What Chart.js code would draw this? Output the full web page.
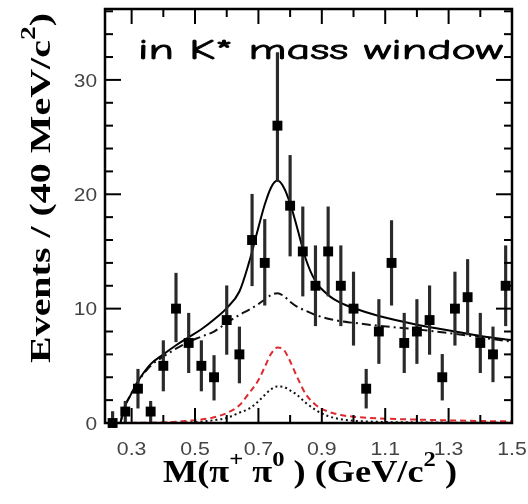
<!DOCTYPE html>
<html>
<head>
<meta charset="utf-8">
<script src="https://cdn.jsdelivr.net/npm/chart.js@4.4.0/dist/chart.umd.min.js"></script>
<style>
  html, body { margin: 0; padding: 0; background: #fff; }
</style>
</head>
<body>
<canvas id="myChart" width="528" height="504"></canvas>
<script>
// M(pi+ pi0) spectrum, 40 MeV bins
const massBins = [0.24, 0.28, 0.32, 0.36, 0.40, 0.44, 0.48, 0.52, 0.56, 0.60, 0.64, 0.68, 0.72, 0.76, 0.80, 0.84,
                  0.88, 0.92, 0.96, 1.00, 1.04, 1.08, 1.12, 1.16, 1.20, 1.24, 1.28, 1.32, 1.36, 1.40, 1.44, 1.48];
const events = [0, 1, 3, 1, 5, 10, 7, 5, 4, 9, 6, 16, 14, 26, 19, 15,
                12, 15, 12, 10, 3, 8, 14, 7, 8, 9, 4, 10, 11, 7, 6, 12];
const errLow = [0, 1, 1.7, 1, 2.2, 2.9, 2.6, 2.2, 2, 3, 2.5, 4, 3.7, 4.9, 4.4, 3.9,
                3.5, 3.9, 3.5, 3.2, 1.7, 2.8, 3.7, 2.6, 2.8, 3, 2, 3.2, 3.3, 2.6, 2.4, 3.5];
const errHigh = [1, 0.9, 1.7, 0.9, 2.2, 3.1, 2.6, 2.2, 1.9, 3, 2.4, 4, 3.8, 6.4, 4.4, 3.9,
                 3.5, 3.9, 3.5, 3.2, 1.7, 2.8, 3.7, 2.6, 2.8, 3, 2, 3.2, 3.3, 2.6, 2.4, 3.5];

// fit components sampled along the mass axis
const fitMass = [0.265, 0.275, 0.295, 0.32, 0.36, 0.40, 0.44, 0.48, 0.52, 0.56, 0.60, 0.64, 0.67, 0.70, 0.72,
                 0.74, 0.76, 0.78, 0.80, 0.82, 0.85, 0.88, 0.92, 0.96, 1.00, 1.08, 1.20, 1.32, 1.41, 1.50];
const fitTotal = [0, 1.2, 2.35, 3.65, 5.15, 6.0, 6.8, 7.5, 8.2, 9.05, 10.05, 11.5, 14.0, 17.1, 19.1,
                  20.6, 21.2, 20.6, 19.2, 17.3, 14.3, 12.4, 11.2, 10.5, 10.05, 9.35, 8.6, 8.0, 7.57, 7.25];
const fitBackground = [0, 1.2, 2.35, 3.6, 5.0, 5.8, 6.5, 7.1, 7.55, 8.0, 8.75, 9.45, 9.9, 10.4, 10.8,
                       11.2, 11.35, 11.1, 10.6, 10.2, 9.8, 9.45, 9.12, 8.9, 8.76, 8.5, 8.18, 7.8, 7.45, 7.1];
const fitSignal = [0, 0, 0.01, 0.02, 0.03, 0.05, 0.1, 0.2, 0.3, 0.5, 0.87, 1.55, 2.6, 3.75, 4.9,
                   6.05, 6.6, 6.4, 5.4, 4.15, 2.5, 1.6, 1.0, 0.7, 0.55, 0.4, 0.3, 0.22, 0.17, 0.14];
const fitSignalPart = [0, 0, 0, 0, 0, 0.01, 0.03, 0.05, 0.12, 0.25, 0.45, 0.9, 1.25, 1.9, 2.45,
                       2.95, 3.2, 3.15, 2.85, 2.5, 1.75, 1.15, 0.6, 0.33, 0.2, 0.1, 0.05, 0.03, 0.02, 0.02];

const xTickLabels = [0.3, 0.5, 0.7, 0.9, 1.1, 1.3, 1.5];
const yTickLabels = [0, 10, 20, 30];

const pts = (xs, ys) => xs.map((x, i) => ({ x: x, y: ys[i] }));

// draws a string with raised parts, starting at x=0 and stretched to a given length
function drawRich(ctx, parts, length, size, supSize, raise) {
    const fontFor = sup => 'bold ' + (sup ? supSize : size) + 'px "Liberation Serif", "Times New Roman", serif';
    let w = 0;
    parts.forEach(p => { ctx.font = fontFor(p[1]); w += ctx.measureText(p[0]).width; });
    ctx.save();
    ctx.scale(length / w, 1);
    let px = 0;
    parts.forEach(p => {
        ctx.font = fontFor(p[1]);
        ctx.fillText(p[0], px, p[1] ? -raise : 0);
        px += ctx.measureText(p[0]).width;
    });
    ctx.restore();
}

const frameAndText = {
    id: 'frameAndText',
    afterDatasetsDraw(chart) {
        const { ctx, chartArea: a, scales: { x, y } } = chart;
        ctx.save();
        ctx.strokeStyle = '#000';
        ctx.lineWidth = 2;
        const seg = (x1, y1, x2, y2) => { ctx.beginPath(); ctx.moveTo(x1, y1); ctx.lineTo(x2, y2); ctx.stroke(); };
        // inward ticks, left and right
        for (let v = 0; v <= 36; v += 2) {
            const py = y.getPixelForValue(v);
            const len = v % 10 === 0 ? 16 : 8;
            seg(a.left, py, a.left + len, py);
            seg(a.right, py, a.right - len, py);
        }
        // inward ticks, top and bottom
        for (let i = 3; i <= 15; i++) {
            const px = x.getPixelForValue(i / 10);
            const len = i % 2 === 1 ? 15 : 8;
            seg(px, a.bottom, px, a.bottom - len);
            seg(px, a.top, px, a.top + len);
        }
        ctx.lineWidth = 2.5;
        ctx.strokeRect(a.left, a.top, a.right - a.left, a.bottom - a.top);

        // tick labels
        ctx.fillStyle = '#444';
        ctx.font = '19px "Liberation Sans", Arial, sans-serif';
        ctx.textBaseline = 'alphabetic';
        yTickLabels.forEach(v => {
            const py = y.getPixelForValue(v);
            ctx.save();
            ctx.translate(97, py + 6.7);
            ctx.scale(1.1, 1);
            ctx.textAlign = 'right';
            ctx.fillText(String(v), 0, 0);
            ctx.restore();
        });
        xTickLabels.forEach(v => {
            const px = x.getPixelForValue(v);
            ctx.save();
            ctx.translate(px, 455);
            ctx.scale(1.12, 1);
            ctx.textAlign = 'center';
            ctx.fillText(v.toFixed(1), 0, 0);
            ctx.restore();
        });

        // label inside the frame
        ctx.fillStyle = '#000';
        ctx.textAlign = 'left';
        ctx.font = '29px "Comic Sans MS", "Comic Neue", "DejaVu Sans", sans-serif';
        const label = 'in K* mass window';
        const lw = ctx.measureText(label).width;
        ctx.save();
        ctx.translate(138, 59);
        ctx.scale(365 / lw, 1);
        ctx.fillText(label, 0, 0);
        ctx.strokeStyle = '#000';
        ctx.lineWidth = 0.8;
        ctx.strokeText(label, 0, 0);
        ctx.restore();

        // axis titles
        ctx.save();
        ctx.translate(163, 482);
        drawRich(ctx, [['M(\u03c0', false], ['+', true], [' \u03c0', false], ['0', true],
                       [' ) (GeV/c', false], ['2', true], [' )', false]], 294, 31, 21, 16);
        ctx.restore();
        ctx.save();
        ctx.translate(50, 363);
        ctx.rotate(-Math.PI / 2);
        drawRich(ctx, [['Events / (40 MeV/c', false], ['2', true], [')', false]], 350, 29, 20, 15);
        ctx.restore();
        ctx.restore();
    }
};

const curve = (data, color, dash, order) => ({
    type: 'line',
    data: pts(fitMass, data),
    borderColor: color,
    borderWidth: 2,
    borderDash: dash,
    pointRadius: 0,
    fill: false,
    cubicInterpolationMode: 'monotone',
    order: order
});

const ctx = document.getElementById('myChart').getContext('2d');
new Chart(ctx, {
    type: 'line',
    data: {
        datasets: [
            {
                label: 'data',
                data: pts(massBins, events),
                showLine: false,
                pointStyle: 'rect',
                pointRadius: 7,
                pointBackgroundColor: '#000',
                pointBorderWidth: 0,
                clip: false,
                order: 0
            },
            {
                type: 'bar',
                label: 'errors',
                data: massBins.map((m, i) => ({ x: m, y: [events[i] - errLow[i], events[i] + errHigh[i]] })),
                backgroundColor: '#2a2a2a',
                barThickness: 2.5,
                clip: false,
                order: 1
            },
            curve(fitTotal, '#000', [], 2),
            curve(fitBackground, '#111', [9, 4, 2, 4], 3),
            curve(fitSignal, '#dd2a2e', [6, 4], 4),
            curve(fitSignalPart, '#111', [2, 3], 5)
        ]
    },
    options: {
        responsive: false,
        animation: false,
        devicePixelRatio: 1,
        layout: { padding: { top: 9, right: 16, left: 0, bottom: 0 } },
        plugins: { legend: { display: false }, tooltip: { enabled: false } },
        scales: {
            x: {
                type: 'linear',
                min: 0.216,
                max: 1.5,
                offset: false,
                grid: { display: false, drawTicks: false, offset: false },
                border: { display: false },
                ticks: { display: false },
                afterFit: s => { s.height = 81; }
            },
            y: {
                type: 'linear',
                min: 0,
                max: 36.2,
                grid: { display: false, drawTicks: false },
                border: { display: false },
                ticks: { display: false },
                afterFit: s => { s.width = 105; }
            }
        }
    },
    plugins: [frameAndText]
});
</script>
</body>
</html>
